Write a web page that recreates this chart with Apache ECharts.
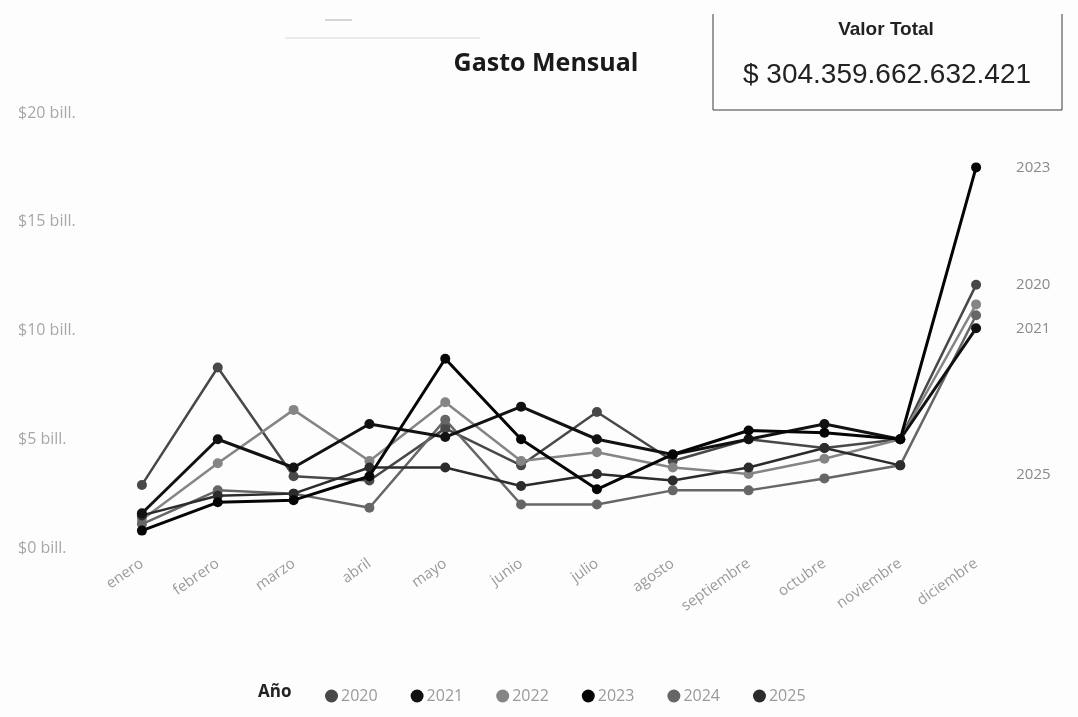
<!DOCTYPE html>
<html>
<head>
<meta charset="utf-8">
<script src="https://cdn.jsdelivr.net/npm/echarts@6/dist/echarts.min.js"></script>
<style>
  html, body { margin: 0; padding: 0; background: #fdfdfd; }
  #chart { width: 1078px; height: 717px; }
</style>
</head>
<body>
<div id="chart"></div>
<script>
// meses del eje X
var meses = ['enero', 'febrero', 'marzo', 'abril', 'mayo', 'junio', 'julio',
    'agosto', 'septiembre', 'octubre', 'noviembre', 'diciembre']

// gasto mensual por año, en billones
var anios = ['2020', '2021', '2022', '2023', '2024', '2025']
var gasto2020 = [2.9, 8.3, 3.3, 3.1, 5.5, 3.8, 6.25, 4.0, 5.0, 4.6, 5.0, 12.1]
var gasto2021 = [1.6, 5.0, 3.7, 5.7, 5.1, 6.5, 5.0, 4.3, 5.0, 5.7, 5.0, 10.1]
var gasto2022 = [1.3, 3.9, 6.35, 4.0, 6.7, 4.0, 4.4, 3.7, 3.4, 4.1, 5.0, 11.2]
var gasto2023 = [0.8, 2.1, 2.2, 3.3, 8.7, 5.0, 2.7, 4.3, 5.4, 5.3, 5.0, 17.5]
var gasto2024 = [1.1, 2.65, 2.5, 1.85, 5.9, 2.0, 2.0, 2.65, 2.65, 3.2, 3.8, 10.7]
var gasto2025 = [1.5, 2.4, 2.5, 3.7, 3.7, 2.85, 3.4, 3.1, 3.7, 4.6, 3.8, null]

var valorTotal = '$ 304.359.662.632.421'

var colores = ['#484848', '#121212', '#858585', '#050505', '#666666', '#2c2c2c']
var datos = [gasto2020, gasto2021, gasto2022, gasto2023, gasto2024, gasto2025]
var conEtiqueta = { '2020': true, '2021': true, '2023': true, '2025': true }

function getSerie(i) {
    var nombre = anios[i]
    var serie = {
        name: nombre,
        type: 'line',
        data: datos[i],
        symbol: 'circle',
        symbolSize: 10,
        lineStyle: { width: nombre === '2021' || nombre === '2023' ? 3 : 2.5, color: colores[i] },
        itemStyle: { color: colores[i] },
        z: nombre === '2023' || nombre === '2021' ? 5 : 3,
        endLabel: {
            show: !!conEtiqueta[nombre],
            formatter: '{a}',
            color: '#8a8a8a',
            fontFamily: 'Open Sans',
            fontSize: 15,
            distance: 40
        }
    }
    if (nombre === '2025') {
        serie.endLabel.offset = [76, 9]
    }
    return serie
}

var series = anios.map(function (a, i) { return getSerie(i) })

var option = {
    backgroundColor: '#fdfdfd',
    animation: false,
    title: {
        text: 'Gasto Mensual',
        left: 541,
        textAlign: 'center',
        top: 46,
        textStyle: { fontFamily: 'Open Sans', fontWeight: 'bold', fontSize: 25, color: '#1a1a1a' }
    },
    grid: { left: 104, right: 64, top: 113, bottom: 169 },
    legend: {
        data: anios,
        left: 320,
        top: 683,
        icon: 'circle',
        itemWidth: 13,
        itemHeight: 13,
        itemGap: 33,
        textStyle: { fontFamily: 'Open Sans', fontSize: 16, color: '#9a9a9a', padding: [0, 0, 0, -2] }
    },
    xAxis: {
        type: 'category',
        data: meses,
        axisLine: { show: false },
        axisTick: { show: false },
        axisLabel: {
            rotate: 35,
            interval: 0,
            margin: 14,
            color: '#9a9a9a',
            fontFamily: 'Open Sans',
            fontSize: 15
        }
    },
    yAxis: {
        type: 'value',
        min: 0,
        max: 20,
        interval: 5,
        splitLine: { show: false },
        axisLine: { show: false },
        axisTick: { show: false },
        axisLabel: {
            align: 'left',
            margin: 86,
            color: '#a8a8a8',
            fontFamily: 'Open Sans',
            fontSize: 16,
            formatter: function (v) { return '$' + v + ' bill.' }
        }
    },
    graphic: [
        { type: 'line', shape: { x1: 285, y1: 38, x2: 480, y2: 38 }, style: { stroke: '#d8d8d8', lineWidth: 1 } },
        { type: 'line', shape: { x1: 325, y1: 20, x2: 352, y2: 20 }, style: { stroke: '#b0b0b0', lineWidth: 1 } },
        {
            type: 'polyline',
            shape: { points: [[713, 14], [713, 110], [1062, 110], [1062, 14]] },
            style: { stroke: '#3a3a3a', lineWidth: 1, fill: null }
        },
        {
            type: 'text', x: 886, y: 20,
            style: { text: 'Valor Total', textAlign: 'center', fontFamily: 'Liberation Sans', fontWeight: 'bold', fontSize: 19, fill: '#222' }
        },
        {
            type: 'text', x: 887, y: 61,
            style: { text: valorTotal, textAlign: 'center', fontFamily: 'Liberation Sans', fontSize: 28, fill: '#222' }
        },
        {
            type: 'text', left: 258, top: 684,
            style: { text: 'Año', fontFamily: 'Open Sans', fontWeight: 'bold', fontSize: 17, fill: '#222' }
        }
    ],
    series: series
}

var chart = echarts.init(document.getElementById('chart'))
chart.setOption(option)
</script>
</body>
</html>
